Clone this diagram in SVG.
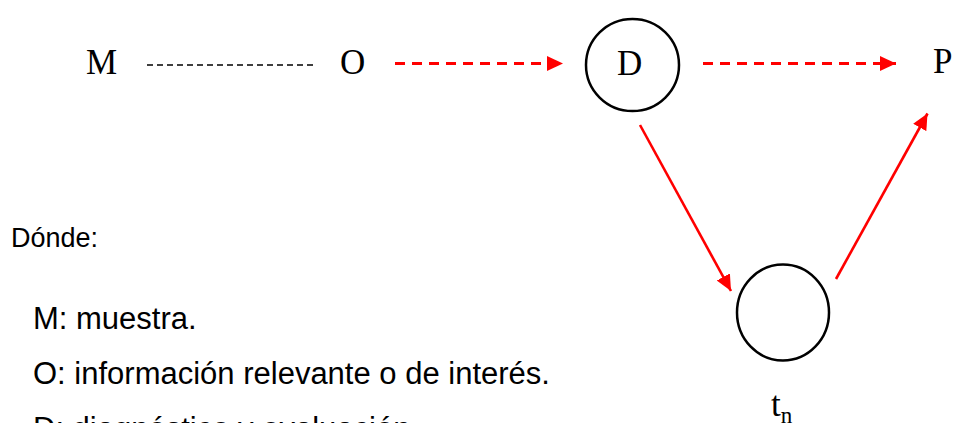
<svg xmlns="http://www.w3.org/2000/svg" width="956" height="423" viewBox="0 0 956 423">
<defs>
<style>
.lbl{font-family:"Liberation Serif","Times New Roman",serif;font-size:35px;fill:#000}
.sub{font-family:"Liberation Serif","Times New Roman",serif;font-size:23px;fill:#000}
.txt{font-family:"Liberation Sans",Arial,sans-serif;font-size:31px;fill:#000}
.ring{fill:none;stroke:#000;stroke-width:2.5}
.red{fill:none;stroke:#ff0000;stroke-width:2.6}
.reddash{fill:none;stroke:#ff0000;stroke-width:3;stroke-dasharray:10 7}
.blkdash{fill:none;stroke:#000;stroke-width:1.4;stroke-dasharray:6 4}
</style>
<marker id="ah" markerUnits="userSpaceOnUse" markerWidth="18" markerHeight="16" refX="16" refY="7.5" orient="auto">
<path d="M0,0 L16,7.5 L0,15 Z" fill="#ff0000"/>
</marker>
</defs>
<rect width="956" height="423" fill="#fff"/>
<g id="connectors">
<line class="blkdash" x1="147" y1="65" x2="317" y2="65"/>
<line class="reddash" x1="395" y1="63.5" x2="563" y2="63.5" marker-end="url(#ah)"/>
<line class="reddash" x1="703" y1="63.5" x2="896" y2="63.5" marker-end="url(#ah)"/>
<line class="red" x1="640" y1="125" x2="731" y2="291" marker-end="url(#ah)"/>
<line class="red" x1="836" y1="279" x2="927.5" y2="113.5" marker-end="url(#ah)"/>
</g>
<g id="node-M"><text class="lbl" x="86" y="74">M</text></g>
<g id="node-O"><text class="lbl" x="340" y="74">O</text></g>
<g id="node-D">
<ellipse class="ring" cx="632.5" cy="65" rx="46.5" ry="46"/>
<text class="lbl" x="617" y="75">D</text>
</g>
<g id="node-P"><text class="lbl" x="933" y="73">P</text></g>
<g id="node-tn">
<ellipse class="ring" cx="783" cy="312.5" rx="46" ry="48"/>
<text class="lbl" x="771" y="416">t<tspan class="sub" dy="7">n</tspan></text>
</g>
<g id="legend">
<text class="txt" x="11" y="247" style="font-size:27px">Dónde:</text>
<text class="txt" x="33" y="329">M: muestra.</text>
<text class="txt" x="33" y="384">O: información relevante o de interés.</text>
<text class="txt" x="33" y="439">D: diagnóstico y evaluación.</text>
</g>
</svg>
